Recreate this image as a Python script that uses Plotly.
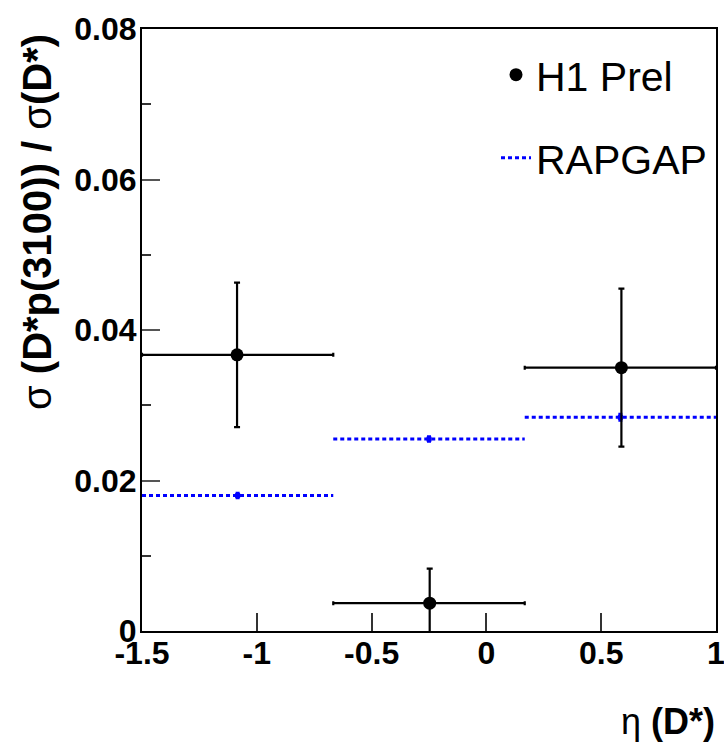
import plotly.graph_objects as go

# ---- data ----
bin_edges = [-1.5, -0.667, 0.167, 1.0]
h1_x = [-1.086, -0.247, 0.588]
h1_y = [0.0367, 0.0037, 0.0350]
h1_err = [0.0096, 0.0046, 0.0105]
rap_y = [0.0180, 0.0255, 0.0284]
rap_err = [0.0003, 0.0003, 0.0004]
x_tickvals = [-1.5, -1, -0.5, 0, 0.5, 1]
x_ticktext = ["-1.5", "-1", "-0.5", "0", "0.5", "1"]
y_tickvals = [0, 0.02, 0.04, 0.06, 0.08]
y_ticktext = ["0", "0.02", "0.04", "0.06", "0.08"]

W, H = 724, 742
L, R, T, B = 142, 8, 29, 111
pw, ph = W - L - R, H - T - B

def px_x(p):
    return (p - L) / pw

def px_y(p):
    return 1 - (p - T) / ph

centers = [(bin_edges[i] + bin_edges[i + 1]) / 2 for i in range(len(rap_y))]

fig = go.Figure()

# RAPGAP histogram-like dotted steps
rx, ry = [], []
for i in range(len(rap_y)):
    rx += [bin_edges[i], bin_edges[i + 1], None]
    ry += [rap_y[i], rap_y[i], None]
fig.add_trace(go.Scatter(
    x=rx, y=ry, mode="lines", name="RAPGAP",
    line=dict(color="#0000ff", width=3, dash="4px,3px"),
    legend="legend2", showlegend=True, hoverinfo="skip"))
fig.add_trace(go.Scatter(
    x=centers, y=rap_y, mode="markers", showlegend=False,
    marker=dict(color="#0000ff", size=5, symbol="square"),
    error_y=dict(type="data", array=rap_err, color="#0000ff", thickness=3, width=2)))

# H1 data points
fig.add_trace(go.Scatter(
    x=h1_x, y=h1_y, mode="markers", name="H1 Prel",
    marker=dict(color="black", size=13, symbol="circle"),
    error_x=dict(type="data", symmetric=False,
                 array=[bin_edges[i + 1] - h1_x[i] for i in range(3)],
                 arrayminus=[h1_x[i] - bin_edges[i] for i in range(3)],
                 color="black", thickness=2.2, width=2),
    error_y=dict(type="data", array=h1_err, color="black", thickness=2.2, width=3),
    showlegend=False))

# legend-only marker for H1
fig.add_trace(go.Scatter(
    x=[None], y=[None], mode="markers", name="H1 Prel",
    marker=dict(color="black", size=13), legend="legend", showlegend=True))

bold = dict(family="Liberation Sans, Arial, sans-serif", size=32, color="black", weight="bold")
legfont = dict(family="Liberation Sans, Arial, sans-serif", size=41, color="black")

fig.update_layout(
    width=W, height=H,
    margin=dict(l=L, r=R, t=T, b=B, autoexpand=False),
    paper_bgcolor="white", plot_bgcolor="white",
    xaxis=dict(range=[-1.5, 1.0], tickvals=x_tickvals, ticktext=x_ticktext,
               ticks="inside", ticklen=18, tickwidth=1.5, tickcolor="#333",
               showline=True, linecolor="black", linewidth=2, mirror=True,
               showgrid=False, zeroline=False, tickfont=bold, automargin=False,
               ticklabeloverflow="allow"),
    yaxis=dict(range=[0, 0.08], tickvals=y_tickvals, ticktext=y_ticktext,
               ticks="inside", ticklen=18, tickwidth=1.5, tickcolor="#555",
               minor=dict(ticks="inside", ticklen=9, tickwidth=1.5, tickcolor="#333",
                          dtick=0.01, showgrid=False),
               showline=True, linecolor="black", linewidth=2, mirror=True,
               showgrid=False, zeroline=False, tickfont=bold, automargin=False,
               ticklabeloverflow="allow"),
    legend=dict(x=px_x(496), y=px_y(75), xanchor="left", yanchor="middle",
                font=legfont, bgcolor="rgba(0,0,0,0)"),
    legend2=dict(x=px_x(496), y=px_y(158), xanchor="left", yanchor="middle",
                 font=legfont, bgcolor="rgba(0,0,0,0)"),
)

try:
    fig.update_xaxes(ticklabelstandoff=-7)
    fig.update_yaxes(ticklabelstandoff=-3)
except Exception:
    pass

fig.add_annotation(
    text="σ <b>(D*p(3100)) / </b>σ<b>(D*)</b>", textangle=-90,
    xref="paper", yref="paper", x=px_x(37), y=px_y(222),
    xanchor="center", yanchor="middle", showarrow=False,
    font=dict(family="Liberation Sans, Arial, sans-serif", size=40, color="black"))
fig.add_annotation(
    text="η <b>(D*)</b>",
    xref="paper", yref="paper", x=px_x(717), y=px_y(721),
    xanchor="right", yanchor="middle", showarrow=False,
    font=dict(family="Liberation Sans, Arial, sans-serif", size=36, color="black"))

fig.write_html("out.html")
